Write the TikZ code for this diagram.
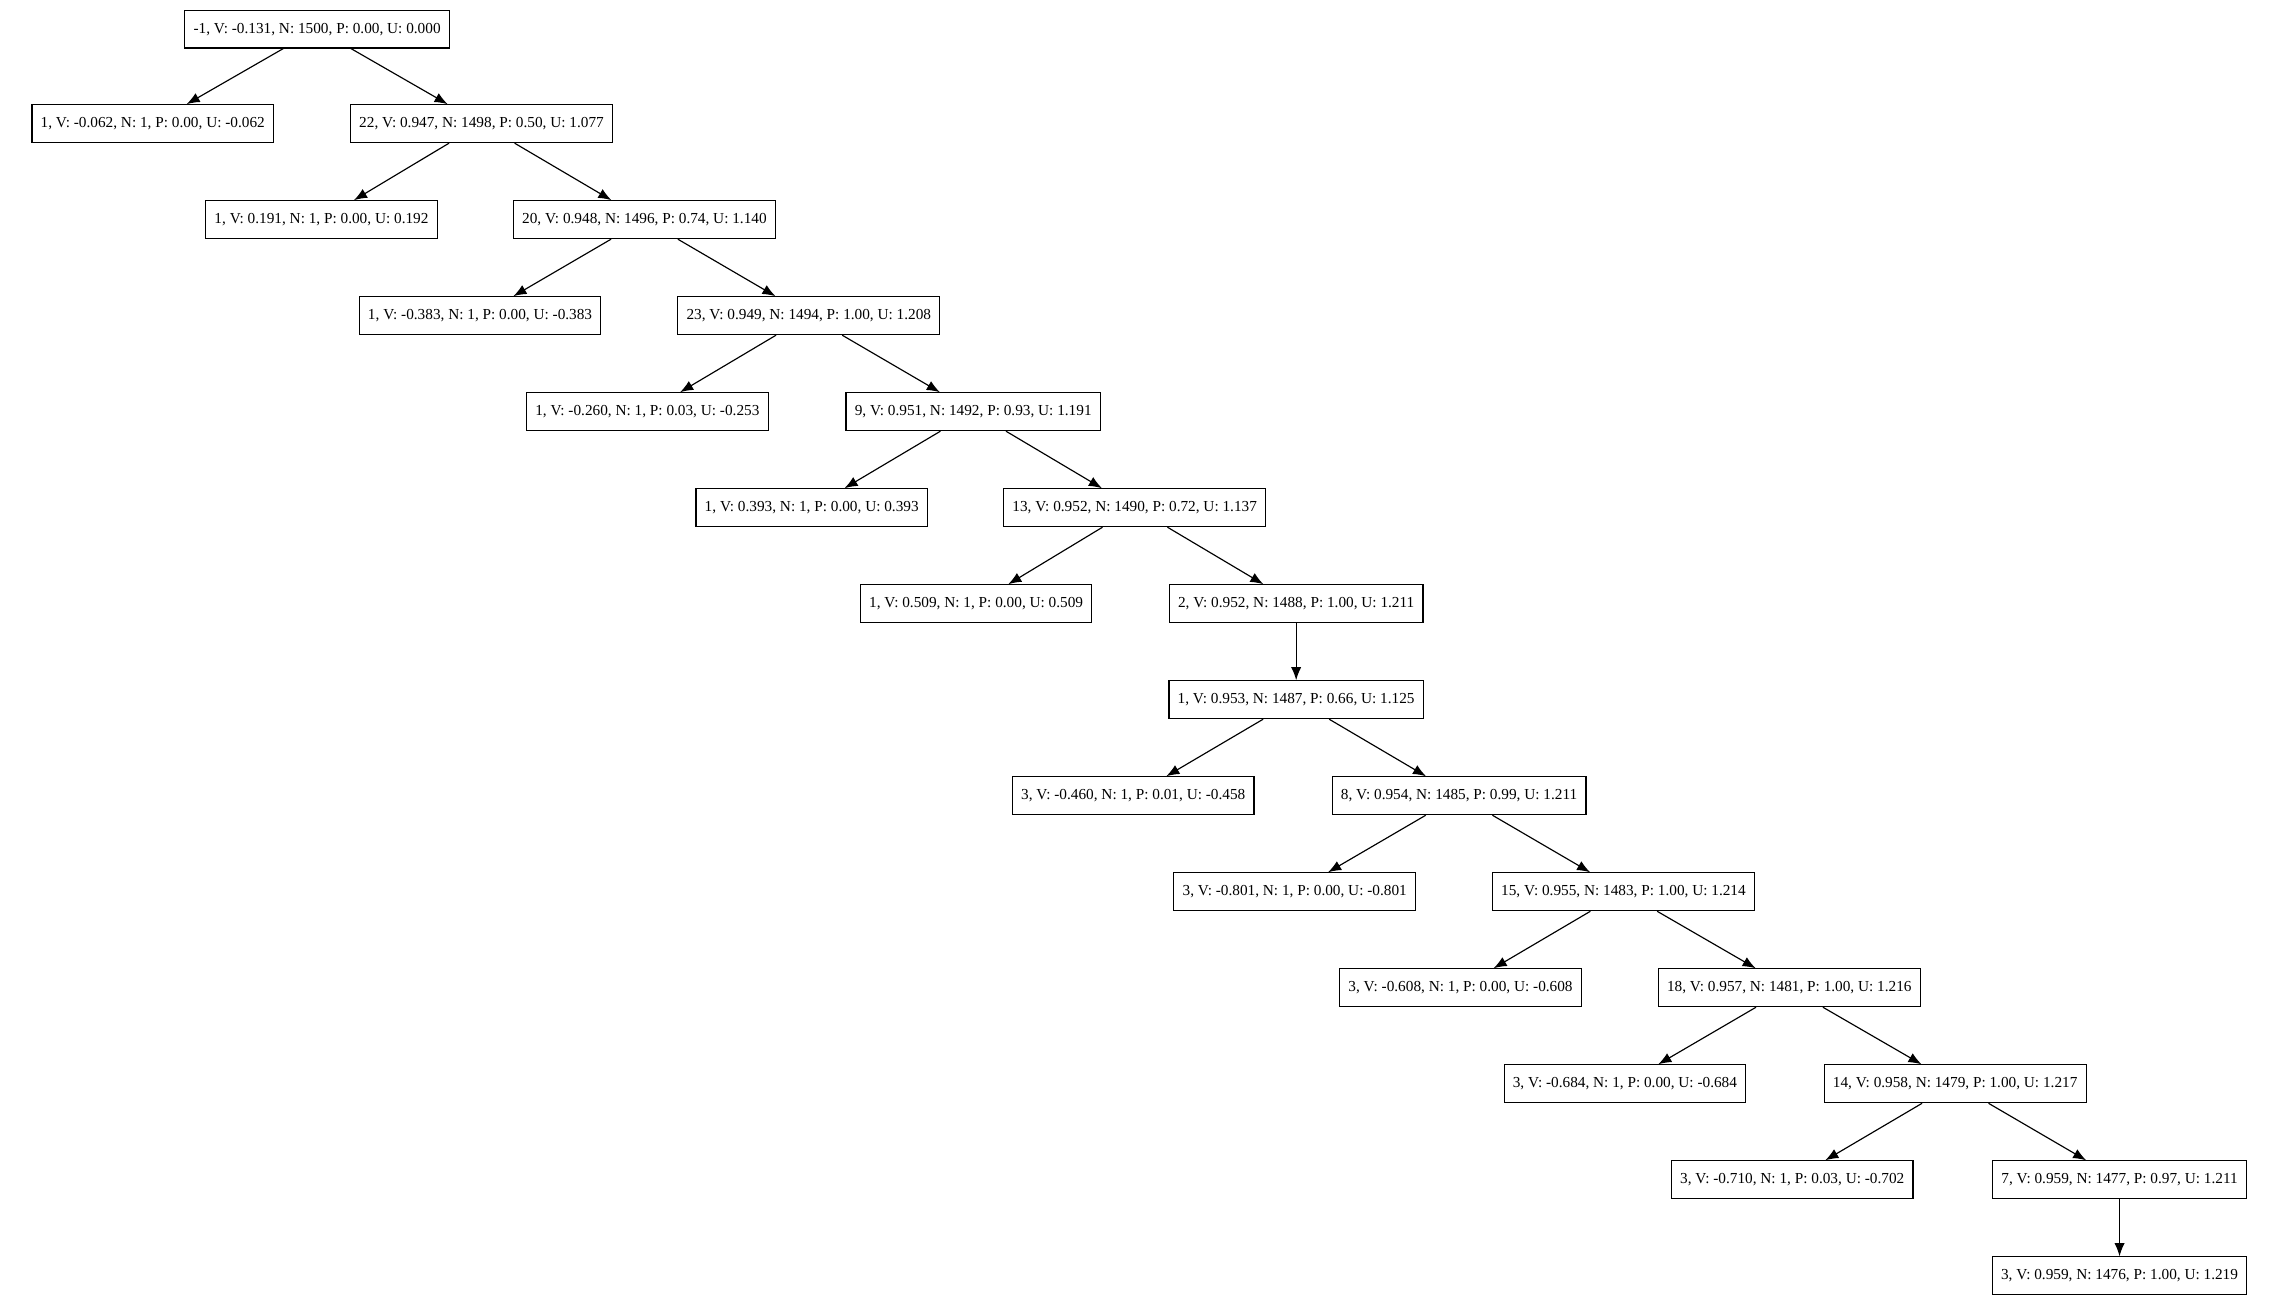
\documentclass[tikz,border=0pt]{standalone}
\usepackage{fontspec}
\setmainfont{Liberation Serif}
\usetikzlibrary{arrows.meta}
\begin{document}
\begin{tikzpicture}[x=1pt,y=-1pt,
  mcts/.style={draw,thick,font=\fontsize{10.5}{12}\selectfont,minimum height=26pt,inner xsep=6pt},
  edge/.style={-{Latex[length=9pt,width=7pt]},thick}]
\useasboundingbox (0,0) rectangle (1568,898);
\node(root)   [mcts] at (218,20)  {-1, V: -0.131, N: 1500, P: 0.00, U: 0.000};
\node(a1)     [mcts] at (105,85)  {1, V: -0.062, N: 1, P: 0.00, U: -0.062};
\node(n22)    [mcts] at (331,85)  {22, V: 0.947, N: 1498, P: 0.50, U: 1.077};
\node(b1)     [mcts] at (221,151) {1, V: 0.191, N: 1, P: 0.00, U: 0.192};
\node(n20)    [mcts] at (443,151) {20, V: 0.948, N: 1496, P: 0.74, U: 1.140};
\node(c1)     [mcts] at (330,217) {1, V: -0.383, N: 1, P: 0.00, U: -0.383};
\node(n23)    [mcts] at (556,217) {23, V: 0.949, N: 1494, P: 1.00, U: 1.208};
\node(d1)     [mcts] at (445,283) {1, V: -0.260, N: 1, P: 0.03, U: -0.253};
\node(n9)     [mcts] at (669,283) {9, V: 0.951, N: 1492, P: 0.93, U: 1.191};
\node(e1)     [mcts] at (558,349) {1, V: 0.393, N: 1, P: 0.00, U: 0.393};
\node(n13)    [mcts] at (780,349) {13, V: 0.952, N: 1490, P: 0.72, U: 1.137};
\node(f1)     [mcts] at (671,415) {1, V: 0.509, N: 1, P: 0.00, U: 0.509};
\node(n2)     [mcts] at (891,415) {2, V: 0.952, N: 1488, P: 1.00, U: 1.211};
\node(n1)     [mcts] at (891,481) {1, V: 0.953, N: 1487, P: 0.66, U: 1.125};
\node(g3)     [mcts] at (779,547) {3, V: -0.460, N: 1, P: 0.01, U: -0.458};
\node(n8)     [mcts] at (1003,547) {8, V: 0.954, N: 1485, P: 0.99, U: 1.211};
\node(h3)     [mcts] at (890,613) {3, V: -0.801, N: 1, P: 0.00, U: -0.801};
\node(n15)    [mcts] at (1116,613) {15, V: 0.955, N: 1483, P: 1.00, U: 1.214};
\node(i3)     [mcts] at (1004,679) {3, V: -0.608, N: 1, P: 0.00, U: -0.608};
\node(n18)    [mcts] at (1230,679) {18, V: 0.957, N: 1481, P: 1.00, U: 1.216};
\node(j3)     [mcts] at (1117,745) {3, V: -0.684, N: 1, P: 0.00, U: -0.684};
\node(n14)    [mcts] at (1344,745) {14, V: 0.958, N: 1479, P: 1.00, U: 1.217};
\node(k3)     [mcts] at (1232,811) {3, V: -0.710, N: 1, P: 0.03, U: -0.702};
\node(n7)     [mcts] at (1457,811) {7, V: 0.959, N: 1477, P: 0.97, U: 1.211};
\node(n3)     [mcts] at (1457,877) {3, V: 0.959, N: 1476, P: 1.00, U: 1.219};

\draw[edge] (root) -- (a1);
\draw[edge] (root) -- (n22);
\draw[edge] (n22)  -- (b1);
\draw[edge] (n22)  -- (n20);
\draw[edge] (n20)  -- (c1);
\draw[edge] (n20)  -- (n23);
\draw[edge] (n23)  -- (d1);
\draw[edge] (n23)  -- (n9);
\draw[edge] (n9)   -- (e1);
\draw[edge] (n9)   -- (n13);
\draw[edge] (n13)  -- (f1);
\draw[edge] (n13)  -- (n2);
\draw[edge] (n2)   -- (n1);
\draw[edge] (n1)   -- (g3);
\draw[edge] (n1)   -- (n8);
\draw[edge] (n8)   -- (h3);
\draw[edge] (n8)   -- (n15);
\draw[edge] (n15)  -- (i3);
\draw[edge] (n15)  -- (n18);
\draw[edge] (n18)  -- (j3);
\draw[edge] (n18)  -- (n14);
\draw[edge] (n14)  -- (k3);
\draw[edge] (n14)  -- (n7);
\draw[edge] (n7)   -- (n3);
\end{tikzpicture}
\end{document}
